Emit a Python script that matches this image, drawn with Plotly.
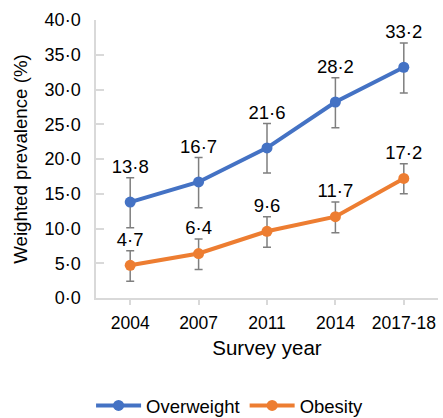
import plotly.graph_objects as go

years = ["2004", "2007", "2011", "2014", "2017-18"]
overweight = [13.8, 16.7, 21.6, 28.2, 33.2]
overweight_lo = [10.1, 13.0, 18.0, 24.5, 29.5]
overweight_hi = [17.3, 20.2, 25.1, 31.7, 36.7]
obesity = [4.7, 6.4, 9.6, 11.7, 17.2]
obesity_lo = [2.4, 4.1, 7.3, 9.4, 15.0]
obesity_hi = [6.8, 8.5, 11.7, 13.8, 19.3]
y_ticks = [0, 5, 10, 15, 20, 25, 30, 35, 40]


def fmt(v):
    return f"{v:.1f}".replace(".", "·")


BLUE = "#4472C4"
ORANGE = "#ED7D31"
ERR = "#7F7F7F"
GRID = "#D9D9D9"
FONT = "Liberation Sans, Arial, sans-serif"

fig = go.Figure()

for name, vals, lo, hi, col in [
    ("Overweight", overweight, overweight_lo, overweight_hi, BLUE),
    ("Obesity", obesity, obesity_lo, obesity_hi, ORANGE),
]:
    fig.add_trace(go.Scatter(
        x=years, y=vals, name=name, mode="lines+markers",
        line=dict(color=col, width=4),
        marker=dict(color=col, size=11),
        error_y=dict(type="data", symmetric=False,
                     array=[h - v for h, v in zip(hi, vals)],
                     arrayminus=[v - l for v, l in zip(vals, lo)],
                     color=ERR, thickness=1.5, width=4),
    ))
    fig.add_trace(go.Scatter(
        x=years, y=hi, mode="text", text=[fmt(v) for v in vals],
        textposition="top center", showlegend=False, hoverinfo="skip",
        textfont=dict(family=FONT, size=18.5, color="#000000"),
    ))

fig.update_layout(
    width=443, height=418,
    margin=dict(l=96, r=5, t=20, b=120, autoexpand=False),
    paper_bgcolor="white", plot_bgcolor="white",
    font=dict(family=FONT, size=18, color="#000000"),
    showlegend=True,
    legend=dict(orientation="h", x=0.392, xref="paper", xanchor="center",
                y=-0.388, yanchor="middle", font=dict(size=18.5),
                itemwidth=45, tracegroupgap=0),
)
fig.update_xaxes(
    type="category", range=[-0.5, 4.5], automargin=False,
    showline=True, linecolor=GRID, linewidth=1.5,
    ticks="outside", tickcolor=GRID, ticklen=5, tickwidth=1.5,
    showgrid=False, zeroline=False,
    title=dict(text="Survey year", font=dict(size=20.5), standoff=9),
    tickfont=dict(size=17.5),
    ticklabelstandoff=3,
)
fig.update_yaxes(
    range=[0, 40], tickvals=y_ticks, ticktext=[fmt(v) for v in y_ticks],
    automargin=False,
    showline=True, linecolor=GRID, linewidth=1.5,
    ticks="inside", tickcolor=GRID, ticklen=8, tickwidth=1.5,
    showgrid=False, zeroline=False,
    ticklabelstandoff=10,
    title=dict(text="Weighted prevalence (%)", font=dict(size=18.7), standoff=12),
    tickfont=dict(size=18),
)

fig.write_html("out.html", config={"displayModeBar": False},
               post_script="document.body.style.margin='0';")
